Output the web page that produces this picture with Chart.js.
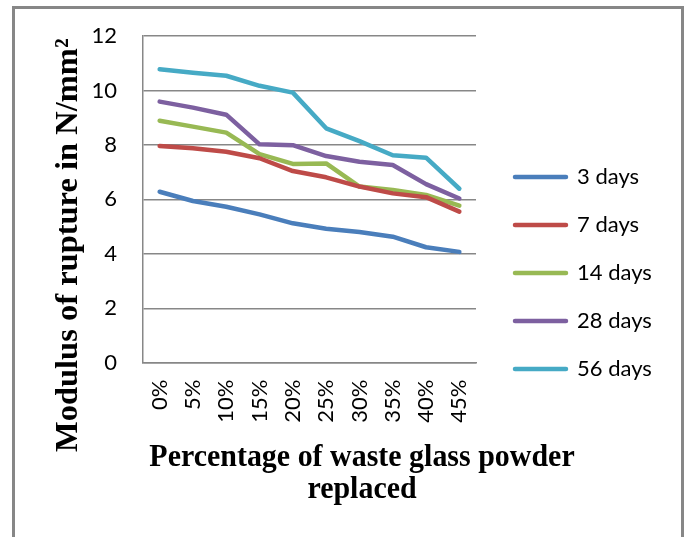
<!DOCTYPE html>
<html>
<head>
<meta charset="utf-8">
<title>Modulus of rupture vs waste glass powder</title>
<script src="https://cdn.jsdelivr.net/npm/chart.js@4.4.1/dist/chart.umd.min.js"></script>
<style>
    html, body { margin: 0; padding: 0; background: #ffffff; }
</style>
</head>
<body>
<canvas id="ruptureChart" width="686" height="537"></canvas>
<script>
// Values (N/mm2)
const replacement = ['0%', '5%', '10%', '15%', '20%', '25%', '30%', '35%', '40%', '45%'];
const days3  = [6.28, 5.94, 5.73, 5.45, 5.12, 4.92, 4.80, 4.63, 4.24, 4.07];
const days7  = [7.96, 7.88, 7.75, 7.51, 7.04, 6.81, 6.47, 6.22, 6.08, 5.55];
const days14 = [8.89, 8.67, 8.45, 7.66, 7.30, 7.32, 6.47, 6.34, 6.16, 5.77];
const days28 = [9.59, 9.37, 9.11, 8.02, 7.99, 7.59, 7.38, 7.26, 6.56, 6.03];
const days56 = [10.78, 10.65, 10.54, 10.17, 9.92, 8.61, 8.14, 7.62, 7.53, 6.39];
const seriesNames = ['3 days', '7 days', '14 days', '28 days', '56 days'];
const yMin = 0;
const yMax = 12;
const yStep = 2;

const seriesData = [days3, days7, days14, days28, days56];
const seriesColors = ['#4a7ebb', '#be4b48', '#98b954', '#7d60a0', '#46aac5'];

const AXIS_GREY = '#878787';
const TICK_FONT = { family: 'Lato', size: 22 };

/**
 * Draws the outer frame and both axis titles, and nudges the legend
 * a little to the right so it sits where the original one does.
 */
const frameAndTitles = {
    id: 'frameAndTitles',
    afterLayout: function(chart) {
        chart.legend.left += 13;
        chart.legend.right += 13;
    },
    beforeDraw: function(chart) {
        const ctx = chart.ctx;
        ctx.save();
        ctx.fillStyle = '#ffffff';
        ctx.fillRect(0, 0, chart.width, chart.height);
        ctx.strokeStyle = AXIS_GREY;
        ctx.lineWidth = 3;
        ctx.beginPath();
        ctx.moveTo(13.5, chart.height);
        ctx.lineTo(13.5, 7.5);
        ctx.lineTo(682.5, 7.5);
        ctx.lineTo(682.5, chart.height);
        ctx.stroke();
        ctx.restore();
    },
    afterDraw: function(chart) {
        const ctx = chart.ctx;
        ctx.save();
        ctx.fillStyle = '#000000';
        ctx.textBaseline = 'alphabetic';

        // y axis title, reading bottom to top
        ctx.save();
        ctx.font = 'bold 32.5px "Liberation Serif"';
        ctx.translate(77, 452);
        ctx.rotate(-Math.PI / 2);
        ctx.textAlign = 'left';
        ctx.fillText('Modulus of rupture in N/mm\u00b2', 0, 0);
        ctx.restore();

        // x axis title, two centred lines
        ctx.save();
        ctx.font = 'bold 32px "Liberation Serif"';
        ctx.translate(362, 0);
        ctx.scale(0.936, 1);
        ctx.textAlign = 'center';
        ctx.fillText('Percentage of waste glass powder', 0, 466);
        ctx.fillText('replaced', 0, 498);
        ctx.restore();

        ctx.restore();
    }
};

function buildDatasets() {
    return seriesNames.map(function(name, i) {
        return {
            label: name,
            data: seriesData[i],
            borderColor: seriesColors[i],
            backgroundColor: seriesColors[i],
            borderWidth: 4.5,
            borderCapStyle: 'round',
            borderJoinStyle: 'round',
            pointRadius: 0,
            pointHoverRadius: 0,
            tension: 0,
            fill: false
        };
    });
}

new Chart(document.getElementById('ruptureChart'), {
    type: 'line',
    data: {
        labels: replacement,
        datasets: buildDatasets()
    },
    plugins: [frameAndTitles],
    options: {
        responsive: false,
        animation: false,
        layout: {
            padding: { top: 36, right: 40, bottom: 27, left: 0 }
        },
        plugins: {
            title: { display: false },
            tooltip: { enabled: false },
            legend: {
                position: 'right',
                align: 'center',
                maxWidth: 170,
                labels: {
                    boxWidth: 51,
                    boxHeight: 0,
                    padding: 26,
                    color: '#000000',
                    font: TICK_FONT
                }
            }
        },
        scales: {
            x: {
                offset: true,
                afterFit: function(scale) { scale.height = 147.3; },
                grid: { display: false, drawTicks: false },
                border: { display: true, color: AXIS_GREY, width: 1.5 },
                ticks: {
                    autoSkip: false,
                    minRotation: 90,
                    maxRotation: 90,
                    padding: 17,
                    color: '#000000',
                    font: TICK_FONT
                }
            },
            y: {
                min: yMin,
                max: yMax,
                afterFit: function(scale) { scale.width = 143; },
                // invisible tick marks keep the labels clear of the axis
                grid: {
                    color: AXIS_GREY,
                    lineWidth: 1.5,
                    drawTicks: true,
                    tickLength: 23,
                    tickColor: 'rgba(0, 0, 0, 0)'
                },
                border: { display: true, color: AXIS_GREY, width: 1.5 },
                ticks: {
                    stepSize: yStep,
                    padding: 3,
                    color: '#000000',
                    font: TICK_FONT
                }
            }
        }
    }
});
</script>
</body>
</html>
